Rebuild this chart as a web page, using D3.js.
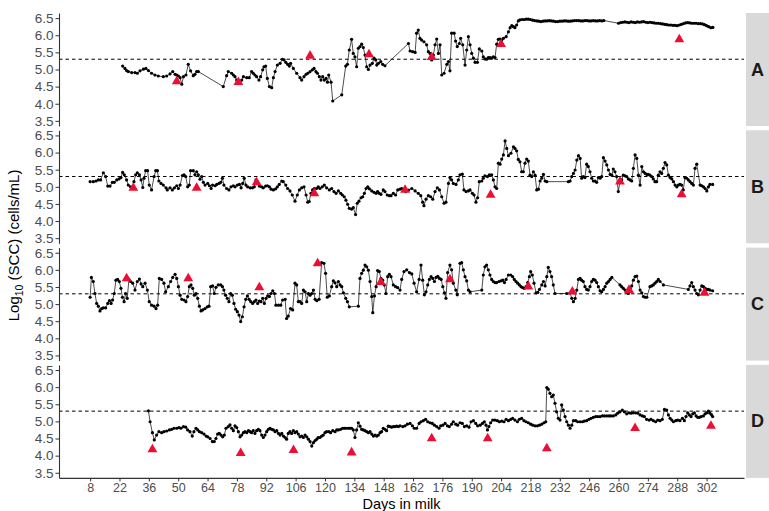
<!DOCTYPE html>
<html><head><meta charset="utf-8">
<script src="https://cdn.jsdelivr.net/npm/d3@7"></script>
<style>body{margin:0;background:#fff} text{font-family:"Liberation Sans", Arial, sans-serif}</style>
</head><body>
<svg id="c" width="769" height="511"></svg>
<script>
// ---- data: [day in milk, log10 SCC] ----
const cows = ["A","B","C","D"];
const xTicks = [8,22,36,50,64,78,92,106,120,134,148,162,176,190,204,218,232,246,260,274,288,302];
const yTicks = [3.5,4.0,4.5,5.0,5.5,6.0,6.5];
const threshold = 5.3;

const seriesA = [[23.5,5.10],[24.6,5.03],[25.4,4.97],[26.2,4.94],[27.8,4.91],[29.4,4.91],[30.5,4.89],[31.8,4.96],[33.4,5.01],[34.6,5.03],[35.8,4.97],[37.3,4.89],[38.9,4.84],[40.5,4.81],[42.9,4.79],[44.5,4.81],[46.1,4.87],[47.4,4.94],[48.5,4.86],[49.3,4.84],[50.1,4.81],[50.9,4.76],[51.7,4.57],[52.5,4.79],[53.7,4.84],[54.8,5.15],[55.9,4.96],[57.2,4.82],[58.0,4.86],[58.8,4.94],[59.6,4.94],
[71.5,4.50],[73.1,4.82],[73.9,4.94],[75.5,4.89],[76.3,4.84],[77.1,4.79],[77.9,4.69],[78.7,4.63],[79.5,4.60],[80.3,4.69],[81.1,4.79],[82.7,4.76],[83.9,4.76],[85.0,4.94],[85.8,4.89],[86.6,4.84],[87.4,4.79],[88.5,4.69],[89.3,4.79],[90.3,4.99],[90.9,5.08],[91.7,5.10],[92.5,4.74],[93.5,4.50],[94.6,4.47],[95.4,4.76],[96.2,4.94],[97.3,5.13],[98.6,5.18],[99.7,5.30],[100.5,5.28],[101.3,5.21],[102.2,5.15],[103.0,5.10],[103.6,5.18],[104.9,5.03],[106.5,4.89],[108.1,4.76],[108.9,4.69],[110.0,4.79],[111.0,4.86],[111.8,4.89],[112.9,4.94],[114.0,4.99],[114.8,5.03],[115.7,4.94],[116.4,4.89],[117.3,4.79],[118.1,4.69],[118.9,4.79],[119.7,4.69],[120.5,4.74],[121.2,4.63],[121.8,4.84],[122.9,4.63],[123.7,4.08],
[128.0,4.26],[129.9,5.10],[130.7,5.15],[131.6,5.57],[132.7,5.88],[133.5,5.47],[134.3,5.37],[135.1,5.08],[135.9,5.62],[136.7,5.67],[137.5,5.74],[138.3,5.64],[139.1,5.42],[139.9,5.08],[140.7,5.00],[141.5,5.13],[142.6,5.18],[143.4,5.33],[144.2,5.28],[144.7,5.13],[145.5,5.18],[146.6,5.23],[147.5,5.15],[148.6,5.11],
[159.8,5.76],[160.6,5.54],[161.8,5.52],[163.0,5.50],[163.7,6.06],[164.5,6.15],[165.3,5.91],[166.1,5.86],[167.2,5.81],[168.5,5.72],[169.3,5.52],[170.1,5.47],[170.9,5.28],[171.7,5.42],[172.5,5.72],[173.3,5.89],[174.1,5.47],[174.9,5.72],[175.7,4.84],[176.8,4.89],[178.1,5.15],[178.9,5.23],[179.6,4.96],[180.4,6.06],[181.6,6.06],[182.3,5.83],[183.1,5.67],[184.1,5.76],[184.7,5.91],[185.7,5.72],[186.8,5.13],[187.6,5.57],[188.4,5.96],[189.2,5.72],[190.0,5.47],[190.8,5.33],[191.6,5.21],[192.7,5.21],[193.6,5.60],[194.8,5.54],[195.5,5.37],[196.3,5.31],[197.1,5.30],[197.9,5.35],[198.7,5.35],[199.5,5.33],[200.3,5.37],[201.1,5.35],[201.9,5.74],[202.7,5.88],[203.5,5.89],[204.3,5.86],[205.1,5.91],[206.4,5.96],[207.5,6.10],[208.3,6.22],[209.1,6.28],[209.9,6.25],[210.6,6.22],[211.4,6.30],[212.2,6.42],[213,6.45],
[214,6.46],[215,6.46],[216,6.47],[217,6.47],[218,6.46],[219,6.44],[220,6.43],[221,6.42],[222,6.41],[223,6.40],[224,6.41],[225,6.42],[226,6.42],[227,6.43],[228,6.42],[229,6.41],[230,6.40],[231,6.40],[232,6.41],[233,6.41],[234,6.42],[235,6.42],[236,6.41],[237,6.41],[238,6.42],[239,6.43],[240,6.43],[241,6.43],[242,6.42],[243,6.42],[244,6.43],[245,6.43],[246,6.42],[247,6.42],[248,6.43],[249,6.42],[250,6.42],[251,6.43],[252,6.42],[253,6.43],
[260,6.35],[261,6.37],[262,6.38],[263,6.39],[264,6.38],[265,6.37],[266,6.39],[267,6.38],[268,6.37],[269,6.39],[270,6.38],[271,6.39],[272,6.40],[273,6.38],[274,6.37],[275,6.38],[276,6.37],[277,6.36],[278,6.35],[279,6.35],[280,6.34],[281,6.33],[282,6.32],[283,6.31],[284,6.30],[285,6.30],[286,6.29],[287,6.29],[288,6.28],[289,6.30],[290,6.32],[291,6.34],[292,6.36],[293,6.37],[294,6.36],[295,6.35],[296,6.35],[297,6.35],[298,6.34],[299,6.34],[300,6.33],[301,6.31],[302,6.28],[303,6.25],[304,6.22],[305,6.23]];

const seriesB = [[8.0,5.15],[9.5,5.15],[10.8,5.17],[11.9,5.20],[13.0,5.20],[14.3,5.41],[15.4,5.30],[16.4,5.02],[17.5,5.02],[18.6,5.13],[19.5,5.13],[20.7,5.20],[21.8,5.23],[22.7,5.27],[23.5,5.42],[24.3,5.35],[25.4,5.20],[26.2,5.05],[27.3,5.00],[28.3,4.98],[28.9,5.15],[29.7,5.35],[30.5,5.41],[31.5,5.35],[32.3,5.20],[33.1,4.98],[33.7,5.25],[34.5,5.47],[35.4,5.47],[36.2,5.05],[37.3,4.91],[38.5,5.30],[39.3,5.47],[40.1,5.47],[40.8,5.17],[41.8,5.10],[42.9,5.05],[44.2,4.97],[44.8,4.91],[46.1,4.97],[47.2,4.91],[48.2,4.97],[49.3,5.03],[50.1,4.95],[50.9,5.05],[52.0,5.33],[52.8,5.35],[53.6,5.30],[54.5,5.00],[55.3,5.05],[55.9,5.47],[57.2,5.47],[58.0,5.35],[58.8,5.44],[59.6,5.35],[60.4,5.22],[61.2,5.30],[62.0,5.13],[62.8,5.05],[64.1,5.10],[64.9,5.03],[65.7,4.95],[66.4,5.05],[67.6,5.03],[68.4,5.07],[69.5,5.10],[70.3,5.13],[71.1,5.25],[71.8,5.05],[73.1,4.95],[74.2,4.91],[75.2,5.00],[76.3,5.03],[77.1,5.00],[78.2,5.05],[79.2,5.07],[80.0,4.97],[80.8,5.10],[81.5,5.25],[82.3,5.05],[83.1,5.00],[84.3,4.97],[85.4,4.97],[86.3,5.00],[87.1,5.20],[87.9,5.13],[88.7,5.02],[89.8,5.00],[90.6,4.97],[91.7,5.02],[92.5,5.03],[93.5,5.00],[94.3,4.93],[95.4,4.91],[96.5,4.94],[97.3,5.00],[98.2,5.07],[99.4,5.17],[100.1,5.15],[101.3,5.05],[102.2,4.95],[103.3,4.88],[104.4,4.76],[105.7,4.58],[106.8,4.76],[107.8,4.91],[108.9,4.97],[110.0,5.00],[111.0,4.76],[111.8,4.55],[112.5,4.57],[113.3,4.81],[114.1,4.91],[114.9,4.95],[116.0,4.95],[116.8,5.00],[117.6,4.95],[118.7,5.00],[119.7,5.05],[120.8,4.97],[122.1,4.91],[123.2,4.95],[124.3,4.86],[125.3,4.81],[126.4,4.88],[127.5,4.81],[128.3,4.76],[129.2,4.71],[130.0,4.61],[130.8,4.49],[131.6,4.37],[132.7,4.35],[133.5,4.39],[134.6,4.19],[135.4,4.52],[136.2,4.58],[137.2,4.68],[138.0,4.71],[138.8,4.81],[139.6,4.95],[140.4,5.00],[141.2,4.94],[142.3,4.88],[143.4,4.84],[144.4,4.81],[145.1,4.86],[145.9,4.81],[146.7,4.78],[147.8,4.91],[148.6,4.86],[149.7,4.76],[150.7,4.74],[151.5,4.74],[152.6,4.81],[153.7,4.76],[154.7,4.91],[155.8,4.93],[156.6,4.95],[157.4,4.91],[158.5,4.86],[159.8,4.90],
[161.4,4.95],[163.0,4.88],[164.5,4.81],[165.7,4.74],[166.6,4.55],[167.2,4.45],[168.2,4.64],[169.3,4.74],[170.4,4.71],[171.4,4.64],[172.5,4.86],[173.6,4.97],[174.6,4.91],[175.7,4.71],[176.8,4.52],[177.7,4.55],[178.9,5.10],[179.6,5.27],[180.4,5.20],[181.2,5.10],[182.5,5.07],[183.6,5.20],[184.4,5.35],[185.5,5.37],[186.3,4.91],[187.3,4.86],[188.4,4.88],[189.2,4.91],[190.3,4.81],[191.1,4.76],[192.0,4.55],[192.8,4.68],[193.6,5.15],[194.8,5.17],[195.5,5.25],[196.3,5.32],[197.5,5.30],[198.4,5.35],[199.5,5.35],[200.3,5.20],[201.1,5.00],[201.9,4.95],[202.7,5.69],[203.5,5.66],[204.3,5.81],[205.1,5.93],[205.9,6.34],[206.7,6.12],[207.5,5.91],[208.7,5.98],[209.9,6.17],[210.6,6.12],[211.4,6.05],[212.2,5.80],[213.0,5.73],[213.8,5.44],[214.6,5.44],[215.4,5.69],[216.2,5.81],[217.0,5.75],[217.8,5.34],[218.6,5.30],[219.4,5.44],[220.2,5.34],[221.0,4.91],[221.8,4.93],[222.6,5.17],[223.4,5.25],[224.2,5.36],[225.0,5.17],[225.8,5.15],
[236.1,5.15],[236.9,5.17],[237.7,5.30],[238.5,5.39],[239.3,5.49],[240.1,5.78],[240.9,5.91],[241.7,5.83],[242.4,5.25],[243.2,5.30],[244.0,5.27],[244.8,5.66],[245.6,5.59],[246.4,5.44],[247.2,5.25],[248.0,5.17],[248.8,5.17],[249.6,5.13],[250.4,5.27],[251.2,5.25],[252.0,5.30],[252.8,5.85],[253.6,5.75],[254.4,5.64],[255.2,5.49],[256.0,5.36],[256.8,5.34],[257.5,5.52],[258.3,5.44],[259.1,5.30],[259.9,4.86],[260.7,5.15],[261.5,5.20],[262.3,5.34],[263.1,5.32],[263.9,5.30],[264.7,5.23],[265.5,5.20],[266.3,5.17],[267.1,5.54],[267.9,5.93],[268.7,5.83],[269.5,5.34],[270.3,5.05],[271.1,5.59],[271.9,5.44],[272.7,5.39],[273.5,5.36],[274.2,5.36],[275.0,5.34],[275.8,5.30],[276.6,5.23],[277.4,5.15],[278.2,5.15],[279.0,5.34],[279.8,5.44],[280.6,5.39],[281.4,5.54],[282.2,5.71],[283.0,5.64],[283.8,5.34],[284.6,5.27],[285.4,5.23],[286.2,5.15],[287.0,5.05],[287.8,5.00],[288.5,5.05],[289.3,5.07],[290.1,5.05],[290.9,4.91],[291.7,5.27],[292.5,5.25],[293.3,5.20],[294.1,5.15],[294.9,5.10],[295.7,5.05],[296.5,5.54],[297.3,5.66],[298.9,5.05],[299.7,5.03],[300.5,5.00],[301.3,4.95],[302.1,4.88],[302.9,5.00],[303.6,5.07],[304.9,5.07]];

const seriesC = [[8.0,5.20],[8.6,5.78],[9.5,5.66],[10.3,5.31],[11.1,5.02],[11.9,4.94],[12.7,4.80],[13.5,4.87],[14.3,4.89],[15.4,4.89],[16.4,5.02],[17.2,5.10],[18.0,5.02],[18.7,5.12],[19.5,5.31],[20.3,5.70],[21.1,5.72],[21.9,5.66],[22.7,5.46],[23.4,5.20],[24.2,5.07],[24.9,5.31],[25.7,5.17],[26.5,5.72],[27.3,5.66],[28.3,5.61],[29.4,5.41],[30.5,5.66],[31.5,5.73],[32.3,5.59],[33.1,5.51],[34.2,5.61],[35.3,5.41],[36.2,5.07],[37.3,4.97],[38.5,4.94],[39.4,4.87],[40.2,4.97],[41.0,5.75],[42.1,5.72],[43.2,5.61],[44.0,5.36],[45.3,5.51],[46.4,5.66],[47.4,5.78],[48.5,5.87],[49.3,5.75],[50.1,5.51],[50.9,5.26],[51.7,5.14],[52.8,5.12],[53.7,5.07],[54.5,5.22],[55.3,5.51],[56.1,5.56],[56.9,5.46],[57.7,5.26],[58.5,5.31],[59.3,5.17],[60.1,4.94],[60.9,4.80],[61.7,4.83],[62.8,4.87],[63.9,4.92],[64.7,4.94],[65.5,5.51],[66.4,5.53],[67.2,5.31],[68.0,5.49],[69.1,5.56],[70.3,5.56],[71.1,5.51],[71.8,5.41],[72.6,5.26],[73.4,5.17],[74.2,5.07],[75.0,5.31],[75.8,5.26],[76.6,5.02],[77.4,4.85],[78.2,4.78],[79.0,4.68],[79.8,4.49],[80.6,4.63],[81.4,4.92],[82.2,5.14],[83.0,5.24],[83.8,5.14],[84.6,5.07],[85.5,5.02],[86.3,5.07],[87.1,5.12],[87.9,5.02],[88.7,5.09],[89.5,5.07],[90.3,5.17],[91.1,5.02],[91.9,5.17],[92.7,5.24],[93.5,5.22],[94.3,5.31],[95.1,5.39],[95.9,5.31],[96.6,4.97],[97.8,4.97],[98.9,4.97],[99.8,5.12],[101.0,5.14],[101.7,4.58],[102.5,4.65],[103.6,4.87],[104.6,4.83],[105.7,5.61],[106.5,5.56],[107.3,5.07],[108.1,5.07],[108.9,5.02],[109.7,5.41],[110.5,5.36],[111.3,5.07],[112.1,5.31],[112.9,5.26],[113.7,5.31],[114.5,5.41],[115.3,5.14],[116.1,5.10],[117.2,5.14],[118.4,6.21],[119.5,6.19],[120.3,5.90],[121.1,5.20],[122.1,5.24],[123.2,5.51],[124.0,5.68],[124.8,5.62],[125.6,5.51],[126.4,5.66],[127.2,5.56],[128.0,5.51],[128.8,5.33],[129.9,5.17],[130.7,5.07],[131.6,4.92],[135.9,4.94],[136.7,5.75],[137.5,5.90],[138.3,5.99],[139.1,6.14],[139.9,6.09],[140.7,5.99],[141.5,5.66],[142.3,5.22],[142.8,4.75],[143.6,5.24],[144.4,5.51],[145.1,5.98],[145.9,5.95],[146.7,5.75],[147.5,5.70],[148.3,5.56],[149.1,5.31],[149.9,5.80],[150.7,5.87],[151.5,5.80],[152.6,5.56],[153.7,5.51],[154.7,5.48],[155.8,5.41],
[156.6,5.72],[157.7,5.95],[159.0,6.00],[160.3,5.92],[161.4,5.88],[162.5,5.61],[163.7,5.36],[164.9,5.72],[165.8,6.14],[166.6,5.70],[167.4,5.27],[168.2,5.36],[169.0,5.56],[169.8,5.72],[170.6,5.80],[171.4,5.75],[172.2,5.66],[173.0,5.78],[173.8,5.81],[174.6,5.75],[175.4,5.72],[176.2,5.51],[177.0,5.33],[177.7,5.17],[178.5,5.92],[179.6,6.14],[180.4,6.00],[181.2,5.61],[182.4,5.41],[183.1,5.27],[184.4,6.19],[185.2,6.21],[186.0,6.00],[186.8,5.80],[187.6,5.68],[188.4,5.41],[189.2,5.36],[194.8,5.41],[195.5,5.85],[196.3,6.09],[197.1,6.14],[197.9,6.00],[198.7,5.85],[199.5,5.72],[200.3,5.66],[201.1,5.63],[201.9,5.63],[203.0,5.66],[204.0,5.68],[204.8,5.70],[205.6,5.63],[206.4,5.72],[207.5,5.85],[208.6,5.85],[209.5,5.80],[210.3,5.72],[211.1,5.66],[211.9,5.61],[212.7,5.56],[213.5,5.51],[214.3,5.48],[215.1,5.46],[215.9,5.51],[216.7,5.63],[217.5,5.80],[218.1,5.95],[218.9,5.85],[219.7,5.61],[220.7,5.33],[221.5,5.34],[222.3,5.43],[223.4,5.56],[224.2,5.66],[225.0,5.53],[225.8,5.80],[226.5,6.07],[227.3,5.95],[228.1,5.80],[228.9,5.56],[229.7,5.31],[235.3,5.31],[236.9,5.33],[237.7,5.17],[238.5,5.07],[239.3,5.17],[240.1,5.41],[240.9,5.72],[241.7,5.75],[242.4,5.70],[243.2,5.66],[244.0,5.51],[244.8,5.43],[245.6,5.41],[246.4,5.51],[247.2,5.66],[248.0,5.72],[248.8,5.70],[249.6,5.63],[250.4,5.51],[251.2,5.39],[252.0,5.36],[252.8,5.43],[253.6,5.51],[254.4,5.61],[255.2,5.66],[256.0,5.72],[256.8,5.78],[260.7,5.56],[261.5,5.51],[262.3,5.46],[263.1,5.41],[263.9,5.36],[264.7,5.31],[265.5,5.46],[266.3,5.53],[267.1,5.70],[267.9,5.80],[268.7,5.82],[269.5,5.66],[270.3,5.41],[271.1,5.33],[271.9,5.22],[272.7,5.20],[273.5,5.20],[275.0,5.51],[275.8,5.53],[276.6,5.56],[277.4,5.61],[278.2,5.66],[279.0,5.72],[279.8,5.66],[281.4,5.56],[293.3,5.43],[294.1,5.53],[294.9,5.63],[295.7,5.51],[296.5,5.41],[297.3,5.31],[298.1,5.27],[298.9,5.41],[299.7,5.53],[300.5,5.51],[301.3,5.46],[302.1,5.43],[302.9,5.43],[303.6,5.41],[304.9,5.39]];

const seriesD = [[35.8,5.31],[36.6,4.99],[37.7,4.67],[38.6,4.46],[39.7,4.60],[40.8,4.70],[42.1,4.67],[43.2,4.70],[44.5,4.72],[45.8,4.75],[46.9,4.77],[48.0,4.80],[49.3,4.80],[50.4,4.82],[51.3,4.80],[52.5,4.85],[53.6,4.83],[54.5,4.75],[55.6,4.70],[56.7,4.57],[57.5,4.70],[58.5,4.80],[59.3,4.75],[60.1,4.70],[61.2,4.67],[62.3,4.63],[63.3,4.57],[64.1,4.55],[65.2,4.50],[66.3,4.41],[67.2,4.41],[68.0,4.50],[68.8,4.63],[69.6,4.65],[70.4,4.60],[71.2,4.55],[72.0,4.60],[72.8,4.80],[73.9,4.85],[74.7,4.90],[75.5,4.80],[76.3,4.73],[77.1,4.87],[77.9,4.82],[78.7,4.70],[79.5,4.55],[80.3,4.60],[81.1,4.67],[81.9,4.70],[82.7,4.67],[83.5,4.73],[84.3,4.70],[85.0,4.67],[85.8,4.73],[86.6,4.65],[87.4,4.73],[88.2,4.77],[89.0,4.73],[89.8,4.60],[90.6,4.53],[91.4,4.60],[92.2,4.70],[93.0,4.77],[93.8,4.80],[94.6,4.77],[95.4,4.75],[96.2,4.70],[97.0,4.73],[97.8,4.65],[98.6,4.60],[99.4,4.65],[100.2,4.57],[101.0,4.53],[101.7,4.48],[102.5,4.65],[103.3,4.70],[104.1,4.65],[104.9,4.73],[105.7,4.67],[106.5,4.70],[107.3,4.63],[108.1,4.55],[108.9,4.57],[109.7,4.53],[110.5,4.60],[111.3,4.55],[112.1,4.48],[112.9,4.41],[113.7,4.28],[114.5,4.38],[115.3,4.44],[116.1,4.48],[116.8,4.53],[117.6,4.53],[118.4,4.57],[119.2,4.60],[120.0,4.67],[120.8,4.70],[121.9,4.70],[122.7,4.67],[123.7,4.73],[124.8,4.70],[125.6,4.75],[126.4,4.75],[127.5,4.77],[128.4,4.80],[129.2,4.80],[130.0,4.80],[131.1,4.80],[131.9,4.80],[132.7,4.80],[133.5,4.75],[134.3,4.53],[135.1,4.75],[135.9,4.96],[136.7,4.86],[137.5,4.77],[138.3,4.75],[139.1,4.73],[139.9,4.70],[140.7,4.67],[141.5,4.70],[142.3,4.63],[143.1,4.57],[143.9,4.60],[144.7,4.57],[145.5,4.60],[146.3,4.67],[147.0,4.70],[147.8,4.80],[148.6,4.77],[149.4,4.73],[150.2,4.86],[151.0,4.85],[151.8,4.83],[152.6,4.85],[153.4,4.85],[154.2,4.86],[155.0,4.85],
[155.8,4.87],[157.1,4.85],[158.2,4.87],[159.3,4.92],[160.6,4.94],[161.7,4.87],[162.6,4.80],[163.7,4.80],[164.9,4.94],[165.8,4.99],[166.9,5.02],[168.0,5.06],[169.0,4.99],[170.1,4.96],[171.2,4.94],[172.2,4.89],[173.3,4.85],[174.4,4.80],[175.2,4.87],[176.2,4.89],[177.3,4.94],[178.4,4.87],[179.3,4.85],[180.4,4.92],[181.2,4.99],[182.4,4.92],[183.3,4.89],[184.4,4.96],[185.5,4.94],[186.5,4.85],[187.6,4.87],[188.7,4.83],[189.7,4.99],[190.8,5.02],[191.9,4.94],[192.8,4.87],[194.0,4.89],[195.1,4.94],[196.0,4.99],[196.8,4.89],[197.5,4.75],[198.2,4.85],[199.0,4.96],[200.0,5.04],[201.1,5.04],[202.2,5.02],[203.2,4.99],[204.3,5.01],[205.4,4.99],[206.4,5.06],[207.5,5.02],[208.6,5.06],[209.5,5.09],[210.6,5.04],[211.8,4.99],[212.7,5.06],[213.8,5.09],[214.9,5.02],[215.9,4.99],[217.0,4.96],[218.1,4.92],[219.1,4.89],[220.2,4.87],[221.3,4.87],[222.3,4.89],[223.4,4.92],[224.5,4.96],[225.3,4.99],[225.8,5.99],[226.5,5.94],[227.3,5.82],[228.1,5.72],[228.9,5.77],[229.7,5.53],[230.5,5.28],[231.3,5.09],[232.1,5.04],[232.9,5.48],[233.7,5.33],[234.5,5.14],[235.3,4.99],[236.1,4.89],[236.9,4.80],[237.7,4.89],[238.5,5.02],[239.6,5.02],[240.5,4.99],[241.7,4.99],[242.8,4.99],[243.7,5.01],[244.8,5.02],[245.9,5.06],[246.9,5.09],[248.0,5.12],[249.1,5.14],[250.1,5.14],[251.2,5.14],[252.3,5.16],[253.3,5.16],[254.4,5.16],[255.5,5.16],[256.4,5.16],[257.5,5.16],[258.7,5.19],[259.6,5.24],[260.7,5.28],[261.8,5.33],[262.8,5.28],[263.9,5.22],[265.0,5.25],[266.0,5.24],[267.1,5.25],[268.2,5.25],[269.2,5.24],[270.3,5.19],[271.4,5.16],[272.3,5.14],[273.4,5.06],[274.6,5.04],[275.5,5.06],[276.6,5.02],[277.7,4.99],[278.7,5.04],[279.8,5.02],[280.9,5.06],[281.9,5.35],[283.0,5.33],[283.8,5.19],[284.6,5.09],[285.4,5.04],[286.2,4.99],[287.3,5.02],[288.2,5.04],[289.3,5.02],[290.5,5.09],[291.4,5.02],[292.2,5.14],[293.0,5.25],[293.8,5.19],[294.6,5.14],[295.4,5.22],[296.2,5.25],[297.0,5.16],[297.8,5.12],[298.6,5.12],[299.4,5.14],[300.5,5.16],[301.3,5.22],[302.1,5.25],[302.9,5.30],[303.6,5.24],[304.4,5.19],[304.9,5.14]];

// red triangles (events)
const eventsA = [[49.3,4.65],[78.7,4.63],[112.9,5.40],[141.0,5.44],[170.9,5.36],[204.0,5.74],[289.0,5.88]];
const eventsB = [[28.6,4.97],[58.8,4.97],[87.4,5.13],[114.9,4.81],[158.2,4.91],[199.0,4.76],[260.7,5.15],[290.1,4.78]];
const eventsC = [[25.4,5.75],[54.8,5.75],[88.7,5.49],[116.5,6.19],[146.6,5.64],[179.6,5.72],[217.0,5.51],[238.0,5.36],[265.0,5.41],[301.0,5.33]];
const eventsD = [[37.7,4.18],[79.8,4.07],[105.0,4.16],[132.7,4.09],[170.9,4.50],[197.6,4.50],[225.8,4.21],[267.9,4.80],[304.1,4.87]];

// ---- layout ----
const svg = d3.select("#c");
const L = 59, R = 744, top0 = 13, ph = 113, pitch = 117.3;
const x = d3.scaleLinear().domain([-6.85, 319.85]).range([L, R]);
const y = d3.scaleLinear().domain([3.35, 6.65]).range([ph, 0]);

const series = [seriesA, seriesB, seriesC, seriesD];
const events = [eventsA, eventsB, eventsC, eventsD];
const line = d3.line().x(d => x(d[0])).y(d => y(d[1]));
const tri = d3.symbol().type(d3.symbolTriangle).size(42);

cows.forEach((cow, i) => {
  const g = svg.append("g").attr("transform", `translate(0,${top0 + i * pitch})`);
  // strip
  g.append("rect").attr("x", 746).attr("y", 0).attr("width", 23).attr("height", ph).attr("fill", "#D9D9D9");
  g.append("text").attr("x", 757.5).attr("y", ph / 2).attr("text-anchor", "middle")
    .attr("dominant-baseline", "central").attr("font-size", 18).attr("font-weight", "bold")
    .attr("fill", "#1A1A1A").text(cow);
  // threshold
  g.append("line").attr("x1", L).attr("x2", R).attr("y1", y(threshold)).attr("y2", y(threshold))
    .attr("stroke", "#000").attr("stroke-width", 1).attr("stroke-dasharray", "3.5,3");
  // line + points
  g.append("path").datum(series[i]).attr("d", line).attr("fill", "none")
    .attr("stroke", "#000").attr("stroke-width", 0.7);
  g.selectAll("circle.p").data(series[i]).join("circle").attr("class", "p")
    .attr("cx", d => x(d[0])).attr("cy", d => y(d[1])).attr("r", 1.6).attr("fill", "#000");
  g.selectAll("path.t").data(events[i]).join("path").attr("class", "t")
    .attr("d", tri).attr("transform", d => `translate(${x(d[0])},${y(d[1])})`).attr("fill", "#EC0F33");
  // y axis
  const ya = g.append("g").attr("transform", `translate(${L},0)`)
    .call(d3.axisLeft(y).tickValues(yTicks).tickFormat(d3.format(".1f")).tickSize(3.5).tickSizeOuter(0).tickPadding(2));
  ya.select(".domain").attr("stroke", "#333").attr("stroke-width", 1.1);
  ya.selectAll(".tick line").attr("stroke", "#333");
  ya.selectAll(".tick text").attr("font-size", 13.5).attr("fill", "#4D4D4D").attr("font-family", "Liberation Sans, Arial, sans-serif");
  if (i === 3) {
    const xa = g.append("g").attr("transform", `translate(0,${ph})`)
      .call(d3.axisBottom(x).tickValues(xTicks).tickSize(3.5).tickSizeOuter(0).tickPadding(2));
    xa.select(".domain").attr("stroke", "#333").attr("stroke-width", 1.1);
    xa.selectAll(".tick line").attr("stroke", "#333");
    xa.selectAll(".tick text").attr("font-size", 12.5).attr("fill", "#4D4D4D").attr("font-family", "Liberation Sans, Arial, sans-serif");
  }
});

// axis titles
svg.append("text").attr("x", (L + R) / 2).attr("y", 509).attr("text-anchor", "middle")
  .attr("font-size", 14.5).attr("fill", "#000").text("Days in milk");
const yt = svg.append("text").attr("transform", `translate(19,${top0 + (3 * pitch + ph) / 2}) rotate(-90)`)
  .attr("text-anchor", "middle").attr("font-size", 15).attr("fill", "#000");
yt.append("tspan").text("Log");
yt.append("tspan").attr("font-size", 10.5).attr("dy", 4).text("10");
yt.append("tspan").attr("dy", -4).text(" (SCC) (cells/mL)");
</script>
</body></html>
